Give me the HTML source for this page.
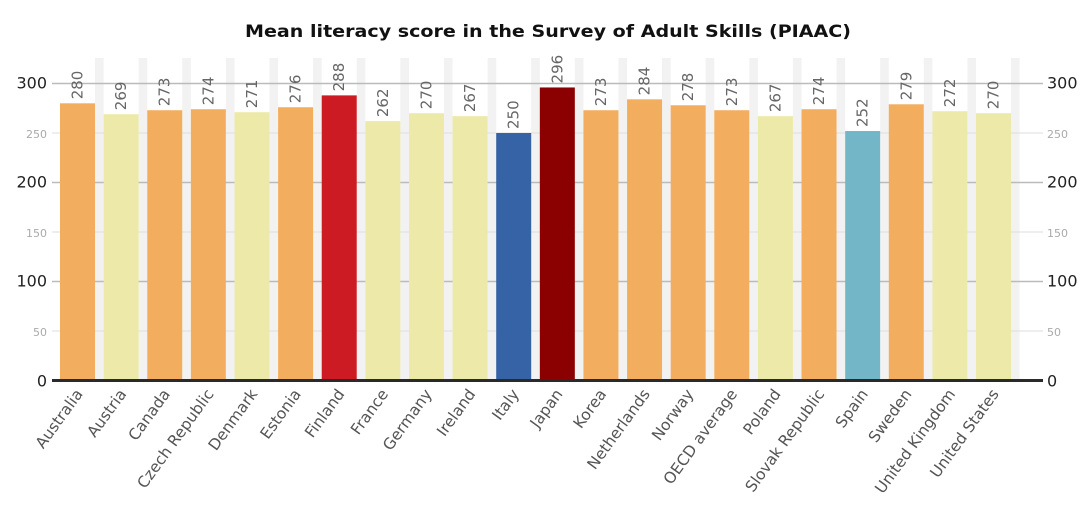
<!DOCTYPE html>
<html><head><meta charset="utf-8"><style>html,body{margin:0;padding:0;background:#fff}svg{display:block}</style></head>
<body>
<svg width="1092" height="523" xmlns="http://www.w3.org/2000/svg" font-family="DejaVu Sans, Liberation Sans, sans-serif">
<text x="548" y="37" text-anchor="middle" font-weight="bold" font-size="17" fill="#111" textLength="606" lengthAdjust="spacingAndGlyphs">Mean literacy score in the Survey of Adult Skills (PIAAC)</text>
<g id="stripes" fill="#f2f2f2"></g>
<g id="grid"></g>
<g id="bars"></g>
<g id="labels"></g>
<line x1="52" y1="380.5" x2="1043" y2="380.5" stroke="#2a2a2a" stroke-width="3"/>
<script>
var names=["Australia","Austria","Canada","Czech Republic","Denmark","Estonia","Finland","France","Germany","Ireland","Italy","Japan","Korea","Netherlands","Norway","OECD average","Poland","Slovak Republic","Spain","Sweden","United Kingdom","United States"];
var vals=[280,269,273,274,271,276,288,262,270,267,250,296,273,284,278,273,267,274,252,279,272,270];
var O="#f2ad5e",Y="#ede9a9";
var cols=[O,Y,O,O,Y,O,"#cc1b22",Y,Y,Y,"#3563a6","#8b0000",O,O,O,O,Y,O,"#72b6c7",O,Y,Y];
var NS="http://www.w3.org/2000/svg";
function el(t,a,p,txt){var e=document.createElementNS(NS,t);for(var k in a)e.setAttribute(k,a[k]);if(txt!==undefined)e.textContent=txt;document.getElementById(p).appendChild(e);return e;}
var y0=380.5,sc=0.99,pitch=43.62,bx=60,bw=35;
for(var i=0;i<22;i++){var x=bx+i*pitch;el("rect",{x:x+bw,y:58,width:pitch-bw,height:y0-58},"stripes");}
for(var v=50;v<=300;v+=50){var y=y0-v*sc;var maj=v%100==0;
el("line",{x1:52,y1:y,x2:1043,y2:y,stroke:maj?"#bbb":"#ddd","stroke-width":maj?1.5:1},"grid");
el("text",{x:47,y:y+5,"text-anchor":"end","font-size":maj?16:11,fill:maj?"#222":"#aaa"},"grid",""+v);
el("text",{x:1047,y:y+5,"font-size":maj?16:11,fill:maj?"#222":"#aaa"},"grid",""+v);}
el("text",{x:47,y:y0+6,"text-anchor":"end","font-size":16,fill:"#222"},"grid","0");
el("text",{x:1047,y:y0+6,"font-size":16,fill:"#222"},"grid","0");
for(var i=0;i<22;i++){var x=bx+i*pitch,h=vals[i]*sc,cx=x+bw/2;
el("rect",{x:x,y:y0-h,width:bw,height:h,fill:cols[i]},"bars");
el("text",{transform:"translate("+(cx+5)+","+(y0-h-4)+") rotate(-90)","font-size":15,fill:"#666"},"labels",""+vals[i]);
el("text",{transform:"translate("+(cx+6)+",394) rotate(-54)","text-anchor":"end","font-size":15.5,fill:"#555"},"labels",names[i]);}
</script>
</svg>
</body></html>
